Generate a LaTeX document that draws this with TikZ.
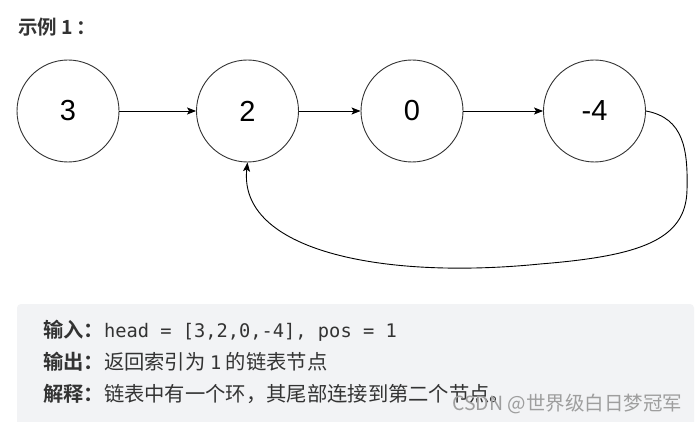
\documentclass[tikz,border=0pt]{standalone}
\usepackage{fontspec}
\setmainfont{Liberation Sans}
\newfontfamily\cjk{Noto Sans CJK SC}
\newfontfamily\cjkbold{Noto Sans CJK SC Bold}[BoldFont={Noto Sans CJK SC Bold}]
\newfontfamily\monof{DejaVu Sans Mono}
\usetikzlibrary{arrows.meta}
\definecolor{boxgrey}{HTML}{F2F3F5}
\definecolor{ringgrey}{HTML}{333333}
\definecolor{txtgrey}{HTML}{333333}
\tikzset{
  listnode/.style={circle, draw=ringgrey, line width=0.9pt, minimum size=102pt, inner sep=0pt, font=\fontsize{29}{29}\selectfont},
  link/.style={draw=black, line width=0.9pt, -{Stealth[length=9pt,width=7pt,inset=2pt]}},
  textline/.style={anchor=base west, inner sep=0pt, text=txtgrey},
}
\begin{document}
\begin{tikzpicture}[x=1pt,y=-1pt]
\clip (0,0) rectangle (696,422);
\fill[white] (0,0) rectangle (696,422);
\node[anchor=base west, inner sep=0pt, text=txtgrey, font=\cjkbold\fontsize{19.5}{19.5}\selectfont] (title) at (18,35) {示例 1\,：};
\node[listnode] (n3) at (68,111) {3};
\node[listnode] (n2) at (247.5,111) {2};
\node[listnode] (n0) at (412,111) {0};
\node[listnode] (n4) at (594.5,111) {-4};
\draw[link] (n3) -- (n2);
\draw[link] (n2) -- (n0);
\draw[link] (n0) -- (n4);
\draw[link] (n4.east) .. controls (684,118) and (688,150) .. (687,190)
  .. controls (686,240) and (640,256) .. (540,264)
  .. controls (380,280) and (238,250) .. (n2.south);
\fill[boxgrey, rounded corners=4pt] (17,304) rectangle (694,440);
\node[textline, font=\fontsize{20.3}{20.3}\selectfont] (l1) at (43,337) {{\cjkbold 输入：}{\monof\fontsize{18.7}{18.7}\selectfont head = [3,2,0,-4], pos = 1}};
\node[textline, font=\fontsize{20.3}{20.3}\selectfont] (l2) at (43,369) {{\cjkbold 输出：}{\cjk 返回索引为\ }{\monof\fontsize{18.7}{18.7}\selectfont 1}{\cjk\ 的链表节点}};
\node[textline, font=\fontsize{20.3}{20.3}\selectfont] (l3) at (43,401) {{\cjkbold 解释：}{\cjk 链表中有一个环，其尾部连接到第二个节点。}};
\node[anchor=base west, inner sep=0pt, text=black!38, font=\cjk\fontsize{19.5}{19.5}\selectfont] (wm) at (452,410) {CSDN @世界级白日梦冠军};
\end{tikzpicture}
\end{document}
